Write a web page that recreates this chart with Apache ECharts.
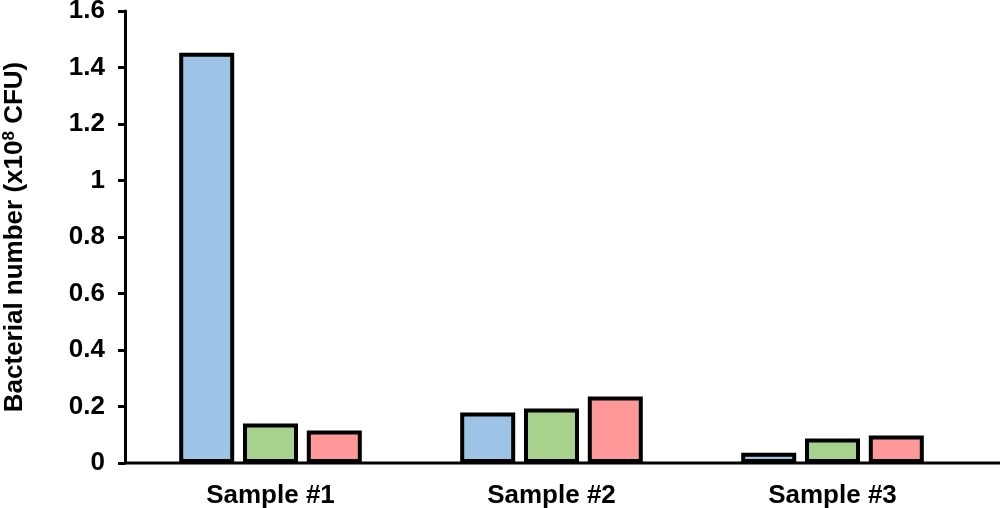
<!DOCTYPE html>
<html><head><meta charset="utf-8">
<script src="https://cdn.jsdelivr.net/npm/echarts@6/dist/echarts.min.js"></script>
<style>html,body{margin:0;padding:0;background:#fff}#c{width:1000px;height:508px}</style>
</head><body><div id="c"></div>
<script>
const categories = ['Sample #1', 'Sample #2', 'Sample #3'];
const seriesA = [1.452, 0.179, 0.036];
const seriesB = [0.140, 0.193, 0.087];
const seriesC = [0.115, 0.235, 0.097];
const yTicks = { min: 0, max: 1.6, interval: 0.2 };
const colors = ['#9DC3E6', '#A9D18E', '#FF9999'];

const chart = echarts.init(document.getElementById('c'));
const font = 'Arial, "Liberation Sans", sans-serif';
const mk = (data, color) => ({
  type: 'bar', data: data, barWidth: 55, barGap: '16%',
  itemStyle: { color: color, borderColor: '#000', borderWidth: 4 },
  animation: false
});
chart.setOption({
  animation: false,
  grid: { left: 130, right: 27, top: 11, bottom: 45, containLabel: false, outerBoundsMode: 'none' },
  xAxis: {
    type: 'category', data: categories,
    axisLine: { show: false },
    axisTick: { show: false },
    axisLabel: { color: '#000', fontFamily: font, fontWeight: 'bold', fontSize: 26, margin: 20 }
  },
  yAxis: {
    type: 'value', min: yTicks.min, max: yTicks.max, interval: yTicks.interval,
    offset: 5,
    splitLine: { show: false },
    axisLine: { show: true, lineStyle: { color: '#000', width: 3 } },
    axisTick: { show: true, length: 7, lineStyle: { color: '#000', width: 3 } },
    axisLabel: { color: '#000', fontFamily: font, fontWeight: 'bold', fontSize: 26, margin: 20 },
    name: '{a|Bacterial number (x10}{s|8}{a| CFU)}',
    nameLocation: 'middle', nameRotate: 90, nameGap: 97,
    nameTextStyle: {
      rich: {
        a: { fontFamily: font, fontWeight: 'bold', fontSize: 26, color: '#000' },
        s: { fontFamily: font, fontWeight: 'bold', fontSize: 17, color: '#000', verticalAlign: 'top', padding: [0,0,10,0] }
      }
    }
  },
  series: [mk(seriesA, colors[0]), mk(seriesB, colors[1]), mk(seriesC, colors[2])]
});
const y0 = chart.convertToPixel({ yAxisIndex: 0 }, 0);
chart.setOption({
  graphic: [{ type: 'line', shape: { x1: 124, y1: y0, x2: 1000, y2: y0 }, style: { stroke: '#000', lineWidth: 3 }, z: 1 }]
});
</script></body></html>
